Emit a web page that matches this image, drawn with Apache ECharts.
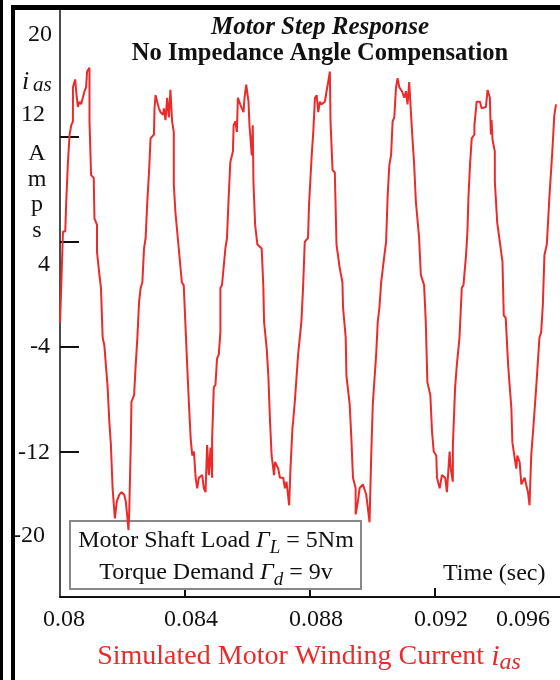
<!DOCTYPE html>
<html><head><meta charset="utf-8">
<script src="https://cdn.jsdelivr.net/npm/echarts@6/dist/echarts.min.js"></script>
<style>html,body{margin:0;padding:0;background:#fff}#c{width:560px;height:680px}</style>
</head><body><div id="c"></div>
<script>
const timeSec = [
0.080000,0.080041,0.080095,0.080168,0.080200,0.080254,0.080308,0.080359,0.080413,0.080414,
0.080467,0.080486,0.080517,0.080571,0.080625,0.080676,0.080730,0.080784,0.080835,0.080867,
0.080943,0.080944,0.080994,0.081079,0.081102,0.081184,0.081185,0.081260,0.081311,0.081365,
0.081419,0.081524,0.081578,0.081629,0.081683,0.081756,0.081819,0.081895,0.081968,0.082054,
0.082105,0.082159,0.082190,0.082213,0.082263,0.082286,0.082371,0.082422,0.082476,0.082530,
0.082581,0.082635,0.082689,0.082740,0.082794,0.082848,0.082898,0.083006,0.083025,0.083057,
0.083111,0.083165,0.083216,0.083302,0.083324,0.083375,0.083429,0.083483,0.083533,0.083587,
0.083641,0.083642,0.083692,0.083800,0.083900,0.083959,0.084010,0.084073,0.084127,0.084181,
0.084232,0.084286,0.084340,0.084390,0.084444,0.084549,0.084603,0.084657,0.084708,0.084762,
0.084816,0.084867,0.084868,0.084921,0.084975,0.085025,0.085079,0.085133,0.085134,0.085184,
0.085238,0.085292,0.085343,0.085397,0.085451,0.085533,0.085556,0.085610,0.085660,0.085692,
0.085768,0.085819,0.085873,0.085905,0.085959,0.086032,0.086063,0.086105,0.086136,0.086168,
0.086190,0.086244,0.086317,0.086454,0.086508,0.086530,0.086613,0.086667,0.086721,0.086772,
0.086849,0.086880,0.086984,0.087038,0.087143,0.087197,0.087248,0.087333,0.087375,0.087438,
0.087460,0.087514,0.087619,0.087673,0.087724,0.087778,0.087832,0.087937,0.087968,0.088054,
0.088105,0.088159,0.088213,0.088263,0.088317,0.088371,0.088476,0.088530,0.088581,0.088635,
0.088657,0.088721,0.088794,0.088848,0.088952,0.089038,0.089057,0.089143,0.089165,0.089270,
0.089324,0.089375,0.089460,0.089461,0.089533,0.089587,0.089692,0.089800,0.089851,0.089905,
0.089959,0.090009,0.090117,0.090168,0.090222,0.090276,0.090381,0.090435,0.090486,0.090540,
0.090594,0.090644,0.090698,0.090752,0.090803,0.090857,0.090943,0.091016,0.091070,0.091121,
0.091175,0.091229,0.091279,0.091333,0.091387,0.091492,0.091546,0.091651,0.091705,0.091756,
0.091851,0.091905,0.091959,0.092041,0.092063,0.092149,0.092222,0.092327,0.092381,0.092435,
0.092467,0.092508,0.092571,0.092572,0.092644,0.092698,0.092784,0.092857,0.092911,0.092994,
0.093038,0.093070,0.093121,0.093175,0.093260,0.093261,0.093333,0.093438,0.093492,0.093629,
0.093683,0.093756,0.093787,0.093810,0.093841,0.093914,0.093915,0.093990,0.094073,0.094159,
0.094200,0.094263,0.094340,0.094444,0.094476,0.094549,0.094603,0.094635,0.094708,0.094762,
0.094867,0.094921,0.094975,0.095025,0.095079,0.095152,0.095238,0.095343,0.095397,0.095451,
0.095502,0.095578,0.095660,0.095746,0.095819,0.095873];

const currentAmps = [
-2.2,0.7,4.8,4.8,7.1,10.1,12.2,12.9,13.2,15.8,
15.8,16.4,15.5,14.3,14.7,14.5,15.0,15.5,15.8,17.0,
17.3,13.2,9.1,8.9,5.8,5.3,3.2,1.5,0.5,-3.3,
-3.9,-7.1,-9.7,-11.5,-14.8,-17.1,-15.8,-15.3,-15.1,-15.3,
-15.8,-17.1,-18.0,-16.8,-11.7,-8.2,-7.7,-5.4,-3.3,-0.6,
0.5,0.9,3.5,4.3,7.1,9.3,11.9,12.2,14.2,15.2,
14.7,14.2,13.9,13.7,14.2,13.3,15.0,13.5,15.6,13.2,
12.4,8.4,6.3,3.5,0.9,0.7,-2.1,-5.6,-8.4,-11.0,
-12.3,-12.0,-14.0,-14.8,-14.0,-13.8,-14.8,-15.1,-11.5,-13.8,
-11.7,-14.0,-11.0,-7.1,-6.9,-4.9,-4.6,-2.9,0.5,0.7,
0.7,3.5,4.3,7.4,10.1,10.9,12.9,13.2,12.4,15.0,
14.5,14.2,13.9,15.0,16.0,14.7,12.9,12.9,10.6,12.9,
8.6,5.3,3.8,3.5,0.5,-2.1,-4.1,-6.2,-9.7,-12.3,
-13.8,-12.8,-13.3,-14.0,-14.0,-14.8,-14.3,-16.1,-13.3,-10.2,
-9.7,-8.2,-4.6,-3.3,-2.1,0.5,4.0,4.3,6.8,10.6,
12.4,15.0,15.2,13.9,14.7,14.5,14.7,15.5,16.2,17.0,
13.2,9.5,9.3,3.8,2.0,0.9,-1.0,-3.3,-6.2,-8.4,
-11.0,-14.0,-14.8,-16.8,-15.8,-14.8,-14.5,-15.3,-16.3,-17.4,
-12.3,-8.4,-4.6,-2.1,-1.0,0.9,3.0,4.0,7.6,9.9,
10.6,13.2,13.5,15.8,16.5,15.8,15.5,15.0,15.5,14.5,
16.2,13.9,11.9,9.9,7.1,4.3,1.5,0.7,-2.1,-6.7,
-7.7,-10.5,-12.0,-12.3,-14.0,-14.8,-13.8,-14.0,-15.1,-15.1,
-12.0,-13.4,-14.3,-11.5,-7.1,-5.4,-3.3,0.5,0.7,3.0,
4.8,7.4,9.9,11.9,12.2,12.9,14.7,14.7,14.2,14.3,
15.6,15.0,12.2,13.3,11.8,10.9,8.6,5.5,4.0,2.5,
-1.6,-1.8,-5.4,-8.7,-11.3,-12.5,-13.3,-12.3,-12.8,-14.5,
-14.0,-14.0,-15.1,-16.1,-12.3,-10.0,-7.1,-3.3,-2.9,-0.8,
3.0,3.8,7.4,10.6,13.7,14.5];

const yTickValues = [12, 4, -4, -12];
const yLabelValues = [20, 12, 4, -4, -12, -20];
const yLabelTexts = ['20', '12', '4', '-4', '-12', '-20'];
const xTickValues = [0.084, 0.088, 0.092];
const xLabelValues = [0.08, 0.084, 0.088, 0.092, 0.096];
const xLabelTexts = ['0.08', '0.084', '0.088', '0.092', '0.096'];

const FONT = '"Liberation Serif", "Times New Roman", serif';
const RED = '#ed2a2a';

const yPads = [[5,0,0,0],[0,7,44,0],[46,2,0,0],[0,2,0,0],[3,2,0,0],[0,7,42,0]];
const xPads = [[0,0,0,8],[0,0,0,12],[0,0,0,12],[0,0,0,12],[0,74,0,0]];
const yRich = {}, xRich = {};
yPads.forEach((p,i)=>{ yRich['y'+i] = {fontSize:24, fontFamily:FONT, color:'#111', padding:p}; });
xPads.forEach((p,i)=>{ xRich['x'+i] = {fontSize:24, fontFamily:FONT, color:'#111', padding:p}; });

function idxOf(arr, v){ let b=0; arr.forEach((a,i)=>{ if (Math.abs(a-v) < Math.abs(arr[b]-v)) b=i; }); return b; }

const chart = echarts.init(document.getElementById('c'), null, {renderer:'canvas'});
chart.setOption({
  animation: false,
  backgroundColor: '#fff',
  grid: {left: 60, right: -4, top: 10, bottom: 83},
  xAxis: {
    type: 'value', min: 0.08, max: 0.096,
    axisLine: {show: true, onZero: false, lineStyle: {color: '#111', width: 2}},
    axisTick: {show: true, inside: true, length: 9, customValues: xTickValues, lineStyle: {color:'#111', width: 2}},
    axisLabel: {customValues: xLabelValues, margin: 11, fontSize: 24, fontFamily: FONT, color: '#111',
      formatter: v => { const i = idxOf(xLabelValues, v); return '{x'+i+'|'+xLabelTexts[i]+'}'; }, rich: xRich},
    splitLine: {show: false}
  },
  yAxis: {
    type: 'value', min: -23.1, max: 21.7,
    axisLine: {show: true, onZero: false, lineStyle: {color: '#111', width: 1.5}},
    axisTick: {show: true, inside: true, length: 19, customValues: yTickValues, lineStyle: {color:'#111', width: 2}},
    axisLabel: {customValues: yLabelValues, margin: 8, fontSize: 24, fontFamily: FONT, color: '#111',
      formatter: v => { const i = idxOf(yLabelValues, v); return '{y'+i+'|'+yLabelTexts[i]+'}'; }, rich: yRich},
    splitLine: {show: false}
  },
  series: [{
    type: 'line', z: 10, showSymbol: false, symbol: 'none',
    lineStyle: {color: RED, width: 2},
    data: timeSec.map((t, i) => [t, currentAmps[i]])
  }],
  graphic: [
    {type:'rect', z: 20, shape:{x:0, y:0, width:3, height:680}, style:{fill:'#000'}},
    {type:'rect', z: 20, shape:{x:11, y:5, width:4, height:675}, style:{fill:'#000'}},
    {type:'rect', z: 20, shape:{x:11, y:5, width:549, height:5}, style:{fill:'#000'}},
    {type:'text', z: 20, x: 320, y: 28, style:{text:'Motor Step Response', font:'italic bold 25px '+FONT, fill:'#111', align:'center', verticalAlign:'middle'}},
    {type:'text', z: 20, x: 320, y: 54, style:{text:'No Impedance Angle Compensation', font:'bold 24.5px '+FONT, fill:'#111', align:'center', verticalAlign:'middle'}},
    {type:'text', z: 20, x: 22, y: 82, style:{text:'i', font:'italic 26px '+FONT, fill:'#111', align:'left', verticalAlign:'middle'}},
    {type:'text', z: 20, x: 33, y: 85, style:{text:'as', font:'italic 21px '+FONT, fill:'#111', align:'left', verticalAlign:'middle'}},
    {type:'text', z: 20, x: 37, y: 141, style:{text:'A\nm\np\ns', font:'24px '+FONT, lineHeight: 25.5, fill:'#111', align:'center', verticalAlign:'top'}},
    {type:'rect', z: 1, shape:{x:70, y:521, width:291, height:68}, style:{fill:'#fff', stroke:'#888', lineWidth:2}},
    {type:'text', z: 2, x: 216, y: 541, style:{text:'Motor Shaft Load {g|Γ}{s|L} = 5Nm', font:'24px '+FONT, fill:'#111', align:'center', verticalAlign:'middle',
      rich:{g:{fontFamily:FONT, fontSize:24, fontStyle:'italic', fill:'#111'}, s:{fontFamily:FONT, fontSize:19, fontStyle:'italic', fill:'#111', padding:[14,0,0,0]}}}},
    {type:'text', z: 2, x: 216, y: 573, style:{text:'Torque Demand {g|Γ}{s|d} = 9v', font:'24px '+FONT, fill:'#111', align:'center', verticalAlign:'middle',
      rich:{g:{fontFamily:FONT, fontSize:24, fontStyle:'italic', fill:'#111'}, s:{fontFamily:FONT, fontSize:19, fontStyle:'italic', fill:'#111', padding:[14,0,0,0]}}}},
    {type:'text', z: 20, x: 443, y: 574, style:{text:'Time (sec)', font:'24px '+FONT, fill:'#111', align:'left', verticalAlign:'middle'}},
    {type:'text', z: 20, x: 309, y: 657, style:{text:'Simulated Motor Winding Current {i|i}{s|as}', font:'28px '+FONT, fill:RED, align:'center', verticalAlign:'middle',
      rich:{i:{fontFamily:FONT, fontSize:30, fontStyle:'italic', fill:RED}, s:{fontFamily:FONT, fontSize:24, fontStyle:'italic', fill:RED, padding:[12,0,0,0]}}}}
  ]
});
</script>
</body></html>
